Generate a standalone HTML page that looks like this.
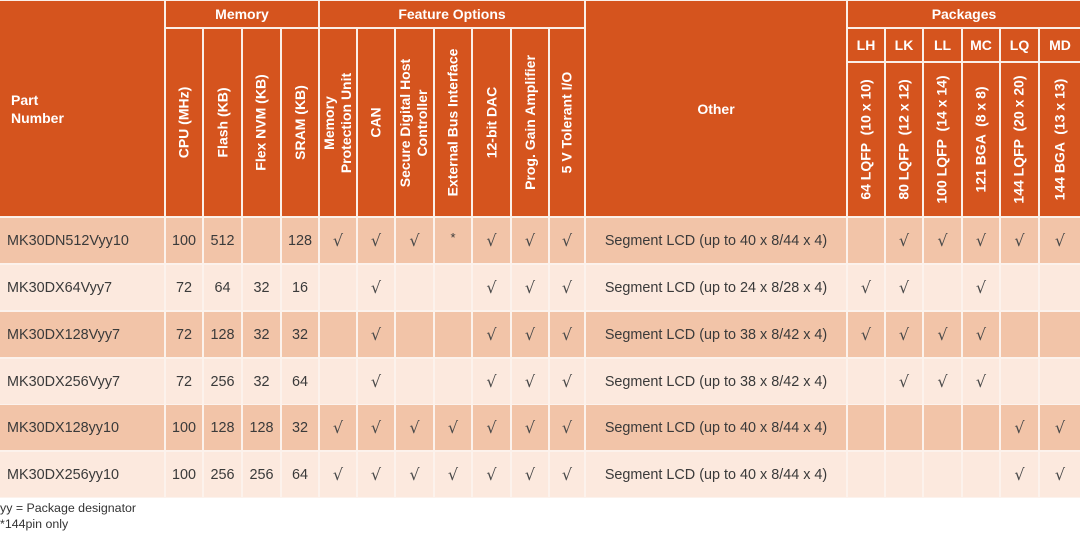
<!DOCTYPE html>
<html>
<head>
<meta charset="utf-8">
<style>
  html,body{margin:0;padding:0;background:#ffffff;}
  body{width:1080px;height:533px;position:relative;overflow:hidden;font-family:"Liberation Sans",sans-serif;}
  .tbl{position:absolute;left:0;top:0;width:1080px;height:498px;background:#fbefe8;}
  .h{position:absolute;background:#d5541e;color:#ffffff;font-weight:bold;font-size:14px;display:flex;align-items:center;justify-content:center;box-sizing:border-box;}
  .r{position:absolute;transform:rotate(-90deg);white-space:pre;text-align:center;line-height:17px;flex-shrink:0;}
  .row{position:absolute;left:0;width:1080px;height:47px;display:grid;
    grid-template-columns:165px 38px 39px 39px 38px 38px 38px 39px 38px 39px 38px 36px 262px 38px 38px 39px 38px 39px 41px;}
  .row div{box-sizing:border-box;border:1px solid #fcf2ec;display:flex;align-items:center;justify-content:center;font-size:14.4px;color:#3a3a3a;}
  .row div:first-child{justify-content:flex-start;padding-left:7px;border-left:0;}
  .row div:last-child{border-right:0;}
  .d div{background:#f2c4a8;}
  .l div{background:#fce9de;}
  .row div.ck{font-family:"DejaVu Sans",sans-serif;font-size:16px;color:#4a4a4a;}
  .row div.st{font-size:13px;padding-bottom:6px;}
  .fn{position:absolute;left:0;font-size:12.4px;color:#333;white-space:nowrap;}
</style>
</head>
<body>
<div class="tbl">
  <!-- Header -->
  <div class="h" style="left:0;top:1px;width:164px;height:215px;justify-content:flex-start;padding-left:11px;line-height:18px;">Part<br>Number</div>

  <div class="h" style="left:166px;top:1px;width:152px;height:26px;">Memory</div>
  <div class="h" style="left:320px;top:1px;width:264px;height:26px;">Feature Options</div>
  <div class="h" style="left:586px;top:1px;width:260px;height:215px;">Other</div>
  <div class="h" style="left:848px;top:1px;width:232px;height:26px;">Packages</div>

  <!-- Memory subcols -->
  <div class="h" style="left:166px;top:29px;width:36px;height:187px;"><span class="r">CPU (MHz)</span></div>
  <div class="h" style="left:204px;top:29px;width:37px;height:187px;"><span class="r">Flash (KB)</span></div>
  <div class="h" style="left:243px;top:29px;width:37px;height:187px;"><span class="r">Flex NVM (KB)</span></div>
  <div class="h" style="left:282px;top:29px;width:36px;height:187px;"><span class="r">SRAM (KB)</span></div>

  <!-- Feature subcols -->
  <div class="h" style="left:320px;top:29px;width:36px;height:187px;"><span class="r">Memory
Protection Unit</span></div>
  <div class="h" style="left:358px;top:29px;width:36px;height:187px;"><span class="r">CAN</span></div>
  <div class="h" style="left:396px;top:29px;width:37px;height:187px;"><span class="r">Secure Digital Host
Controller</span></div>
  <div class="h" style="left:435px;top:29px;width:36px;height:187px;"><span class="r">External Bus Interface</span></div>
  <div class="h" style="left:473px;top:29px;width:37px;height:187px;"><span class="r">12-bit DAC</span></div>
  <div class="h" style="left:512px;top:29px;width:36px;height:187px;"><span class="r">Prog. Gain Amplifier</span></div>
  <div class="h" style="left:550px;top:29px;width:34px;height:187px;"><span class="r">5 V Tolerant I/O</span></div>

  <!-- Package codes -->
  <div class="h" style="left:848px;top:29px;width:36px;height:32px;">LH</div>
  <div class="h" style="left:886px;top:29px;width:36px;height:32px;">LK</div>
  <div class="h" style="left:924px;top:29px;width:37px;height:32px;">LL</div>
  <div class="h" style="left:963px;top:29px;width:36px;height:32px;">MC</div>
  <div class="h" style="left:1001px;top:29px;width:37px;height:32px;">LQ</div>
  <div class="h" style="left:1040px;top:29px;width:40px;height:32px;">MD</div>

  <!-- Package descriptions -->
  <div class="h" style="left:848px;top:63px;width:36px;height:153px;"><span class="r">64 LQFP  (10 x 10)</span></div>
  <div class="h" style="left:886px;top:63px;width:36px;height:153px;"><span class="r">80 LQFP  (12 x 12)</span></div>
  <div class="h" style="left:924px;top:63px;width:37px;height:153px;"><span class="r">100 LQFP  (14 x 14)</span></div>
  <div class="h" style="left:963px;top:63px;width:36px;height:153px;"><span class="r">121 BGA  (8 x 8)</span></div>
  <div class="h" style="left:1001px;top:63px;width:37px;height:153px;"><span class="r">144 LQFP  (20 x 20)</span></div>
  <div class="h" style="left:1040px;top:63px;width:40px;height:153px;"><span class="r">144 BGA  (13 x 13)</span></div>

  <!-- Data rows -->
  <div class="row d" style="top:217px;">
    <div>MK30DN512Vyy10</div><div>100</div><div>512</div><div></div><div>128</div>
    <div class="ck">√</div><div class="ck">√</div><div class="ck">√</div><div class="st">*</div><div class="ck">√</div><div class="ck">√</div><div class="ck">√</div>
    <div>Segment LCD (up to 40 x 8/44 x 4)</div>
    <div></div><div class="ck">√</div><div class="ck">√</div><div class="ck">√</div><div class="ck">√</div><div class="ck">√</div>
  </div>
  <div class="row l" style="top:264px;">
    <div>MK30DX64Vyy7</div><div>72</div><div>64</div><div>32</div><div>16</div>
    <div></div><div class="ck">√</div><div></div><div></div><div class="ck">√</div><div class="ck">√</div><div class="ck">√</div>
    <div>Segment LCD (up to 24 x 8/28 x 4)</div>
    <div class="ck">√</div><div class="ck">√</div><div></div><div class="ck">√</div><div></div><div></div>
  </div>
  <div class="row d" style="top:311px;">
    <div>MK30DX128Vyy7</div><div>72</div><div>128</div><div>32</div><div>32</div>
    <div></div><div class="ck">√</div><div></div><div></div><div class="ck">√</div><div class="ck">√</div><div class="ck">√</div>
    <div>Segment LCD (up to 38 x 8/42 x 4)</div>
    <div class="ck">√</div><div class="ck">√</div><div class="ck">√</div><div class="ck">√</div><div></div><div></div>
  </div>
  <div class="row l" style="top:358px;">
    <div>MK30DX256Vyy7</div><div>72</div><div>256</div><div>32</div><div>64</div>
    <div></div><div class="ck">√</div><div></div><div></div><div class="ck">√</div><div class="ck">√</div><div class="ck">√</div>
    <div>Segment LCD (up to 38 x 8/42 x 4)</div>
    <div></div><div class="ck">√</div><div class="ck">√</div><div class="ck">√</div><div></div><div></div>
  </div>
  <div class="row d" style="top:404px;">
    <div>MK30DX128yy10</div><div>100</div><div>128</div><div>128</div><div>32</div>
    <div class="ck">√</div><div class="ck">√</div><div class="ck">√</div><div class="ck">√</div><div class="ck">√</div><div class="ck">√</div><div class="ck">√</div>
    <div>Segment LCD (up to 40 x 8/44 x 4)</div>
    <div></div><div></div><div></div><div></div><div class="ck">√</div><div class="ck">√</div>
  </div>
  <div class="row l" style="top:451px;">
    <div>MK30DX256yy10</div><div>100</div><div>256</div><div>256</div><div>64</div>
    <div class="ck">√</div><div class="ck">√</div><div class="ck">√</div><div class="ck">√</div><div class="ck">√</div><div class="ck">√</div><div class="ck">√</div>
    <div>Segment LCD (up to 40 x 8/44 x 4)</div>
    <div></div><div></div><div></div><div></div><div class="ck">√</div><div class="ck">√</div>
  </div>
</div>

<div class="fn" style="top:501px;">yy = Package designator</div>
<div class="fn" style="top:517px;">*144pin only</div>
</body>
</html>
